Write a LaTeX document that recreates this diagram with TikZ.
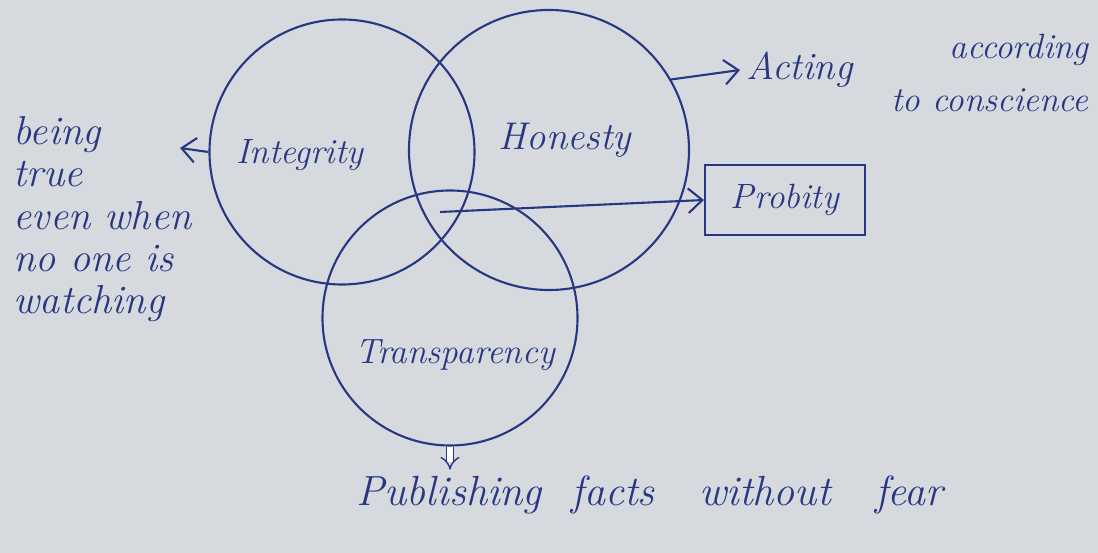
\documentclass[tikz,border=0pt]{standalone}
\usepackage{tikz}
\usetikzlibrary{arrows.meta}
\definecolor{paper}{RGB}{214,218,222}
\definecolor{inkblue}{RGB}{40,55,130}

\begin{document}
\begin{tikzpicture}[
  venn/.style={draw=inkblue, circle, line width=1.2pt},
  word/.style={text=inkblue, font=\fontsize{20}{24}\selectfont\itshape},
  ink/.style={draw=inkblue, line width=1.2pt, -{Straight Barb[length=8pt,width=14pt]}}
]
% Paper
\fill[paper] (0,0) rectangle (21.96,11.06);
\useasboundingbox (0,0) rectangle (21.96,11.06);

% Three circles
\node[venn, minimum size=5.3cm] (integ) at (6.84, 8.02) {};
\node[venn, minimum size=5.6cm] (honest) at (10.98, 8.06) {};
\node[venn, minimum size=5.1cm] (transp) at (9.0, 4.7) {};

% Circle names
\node[word] (integrity) at (6.0, 7.96) {Integrity};
\node[word, font=\fontsize{22}{26}\selectfont\itshape] (honesty) at (11.3, 8.26) {Honesty};
\node[word] (transparency) at (9.1, 3.96) {Transparency};

% Meanings
\node[word, font=\fontsize{23}{24}\selectfont\itshape, anchor=north west, align=left] (being) at (0.15, 8.85)
  {being\\true\\even when\\no one is\\watching};
\node[word, font=\fontsize{22}{26}\selectfont\itshape, anchor=west] (acting) at (14.8, 9.66) {Acting};
\node[word, font=\fontsize{20}{30}\selectfont\itshape, anchor=north east, align=right] (conscience) at (21.9, 10.5)
  {according\\to conscience};
\node[word, draw=inkblue, line width=1.2pt, minimum width=3.2cm, minimum height=1.4cm]
  (probity) at (15.7, 7.06) {Probity};
\node[word, font=\fontsize{24}{28}\selectfont\itshape] (publish) at (13.0, 1.16)
  {Publishing\ \ facts\ \ \ without\ \ \ fear};

\coordinate (beingtip) at (3.6, 8.1);
\coordinate (core) at (8.8, 6.82);

% Arrows
\draw[ink] (integ.west) -- (beingtip);
\draw[ink] (honest.30) -- (acting.west);
\draw[ink] (core) -- (probity.west);
\draw[draw=inkblue, line width=0.8pt, double, double distance=3pt, -{Implies}]
  (transp.south) -- (publish.north -| transp.south);

\end{tikzpicture}
\end{document}
